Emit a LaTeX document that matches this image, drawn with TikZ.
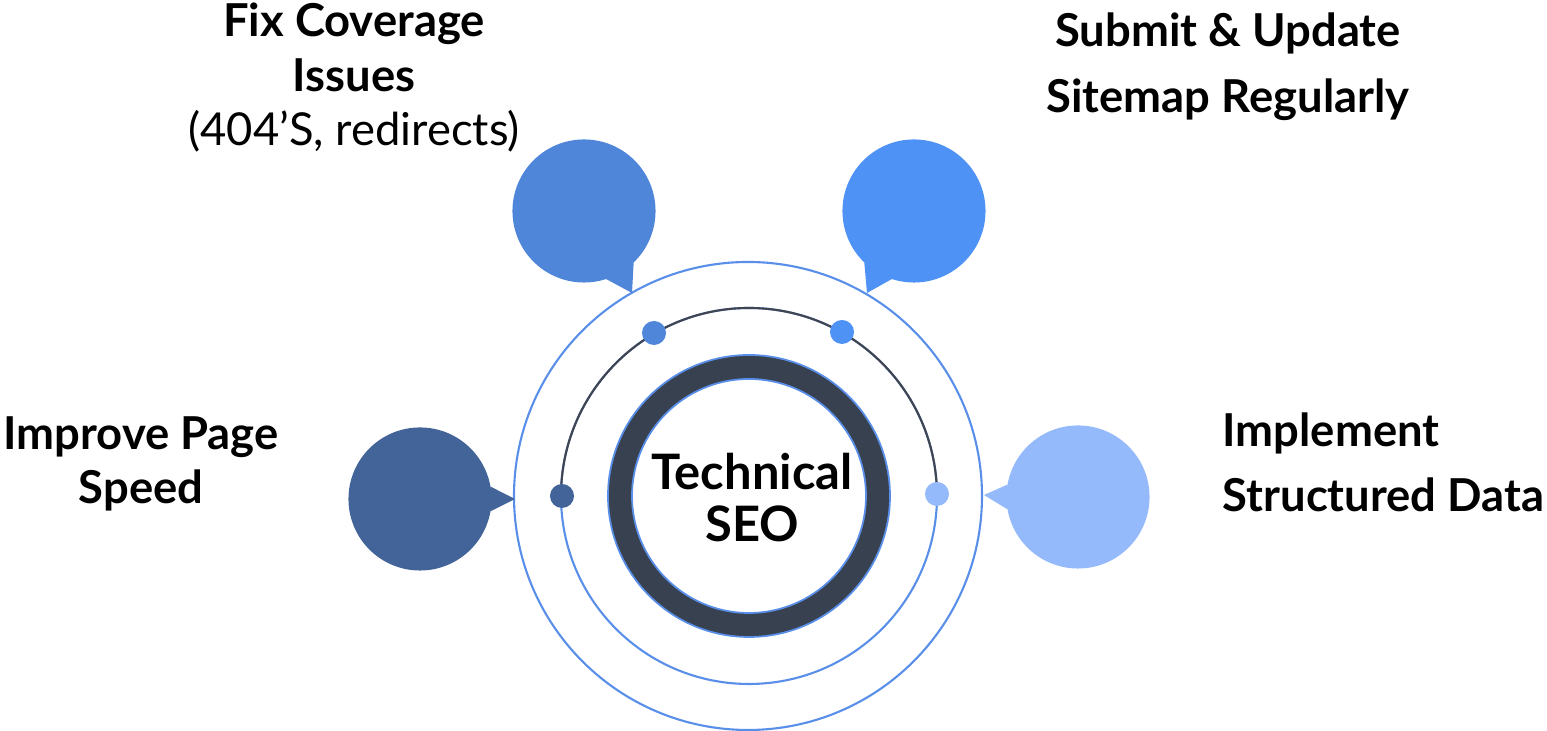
\documentclass[tikz,border=0pt]{standalone}
\usepackage{fontspec}
\setmainfont{Lato}
\usepackage{xcolor}
\usepackage{tikz}
\usetikzlibrary{positioning,calc}
\definecolor{bubFix}{HTML}{5086DA}
\definecolor{bubMap}{HTML}{4F92F6}
\definecolor{bubSpeed}{HTML}{436499}
\definecolor{bubData}{HTML}{95BAFB}
\definecolor{ringBlue}{HTML}{5A8FE9}
\definecolor{ringDark}{HTML}{37414F}
\definecolor{arcDark}{HTML}{41454F}

\begin{document}
\begin{tikzpicture}[x=0.01cm, y=0.01cm,
    txt/.style={font=\bfseries\fontsize{12.9}{15.5}\selectfont, align=center, anchor=base},
    bubble/.style={circle, inner sep=0pt, outer sep=0pt, minimum size=1.43cm},
    dot/.style={circle, inner sep=0pt, outer sep=0pt, minimum size=0.24cm}]
    \useasboundingbox (0,0) rectangle (1547,731);

    % Outer rings
    \draw[ringBlue, line width=0.6pt] (748,235) circle[radius=234];
    \draw[ringBlue, line width=0.6pt] (749,235) circle[radius=188];
    \draw[arcDark, line width=0.6pt] (561,235) arc[start angle=180, end angle=0, radius=188];

    % Center ring
    \draw[ringDark, line width=0.24cm] (749,235) circle[radius=129];
    \draw[ringBlue, line width=0.5pt] (749,235) circle[radius=141];
    \draw[ringBlue, line width=0.5pt] (749,235) circle[radius=117];
    \node[font=\bfseries\fontsize{13.9}{14.8}\selectfont, align=center, anchor=base] (tech) at (752,189) {Technical\\SEO};

    % Dots on the arc
    \node[dot, fill=bubSpeed] (dotSpeed) at (562,235) {};
    \node[dot, fill=bubFix] (dotFix) at (654,398) {};
    \node[dot, fill=bubMap] (dotMap) at (842,399) {};
    \node[dot, fill=bubData] (dotData) at (937,237) {};

    % Bubbles
    \node[bubble, fill=bubFix] (fix) at (584,520) {};
    \fill[bubFix] (fix.-72) -- (fix.-46) -- (632,438) -- cycle;
    \node[bubble, fill=bubMap] (map) at (914,520) {};
    \fill[bubMap] (map.-134) -- (map.-108) -- (867,438) -- cycle;
    \node[bubble, fill=bubSpeed] (speed) at (420,232) {};
    \fill[bubSpeed] (speed.10) -- (speed.-10) -- (515,232) -- cycle;
    \node[bubble, fill=bubData] (data) at (1078,234) {};
    \fill[bubData] (data.170) -- (data.190) -- (984,236) -- cycle;

    % Labels
    \node[txt] (fixTxt) at (354,585) {Fix Coverage\\Issues\\{\mdseries(404’S, redirects)}};
    \node[txt, font=\bfseries\fontsize{12.9}{19}\selectfont] (mapTxt) at (1228,618) {Submit \& Update\\Sitemap Regularly};
    \node[txt] (speedTxt) at (141,227) {Improve Page\\Speed};
    \node[txt, font=\bfseries\fontsize{12.9}{18.5}\selectfont, align=left, anchor=base west, inner sep=0pt] (dataTxt) at (1222,219) {Implement\\Structured Data};
\end{tikzpicture}
\end{document}
